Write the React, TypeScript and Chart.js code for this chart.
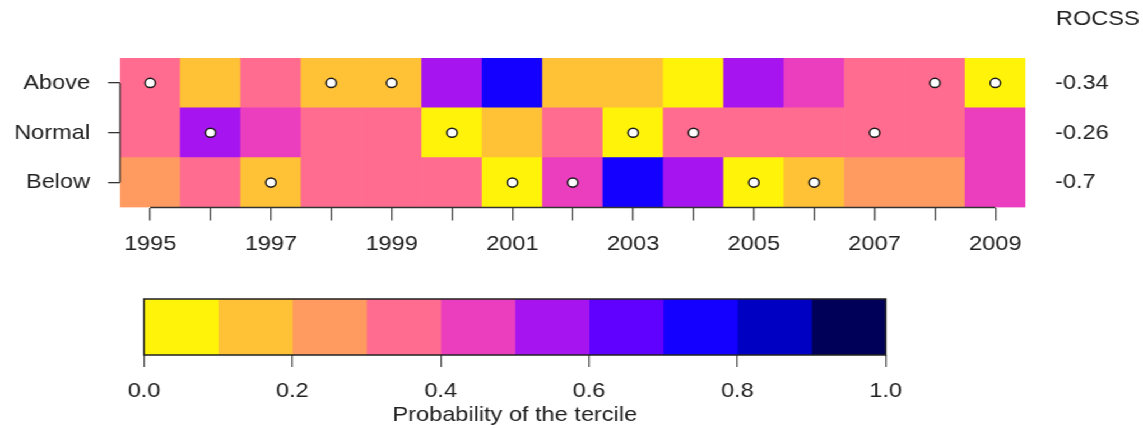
import React, { useEffect, useRef } from 'react';
import { Chart, registerables } from 'chart.js';

Chart.register(...registerables);

// ---------------- data ----------------
const years = ['1995', '1996', '1997', '1998', '1999', '2000', '2001', '2002', '2003', '2004', '2005', '2006', '2007', '2008', '2009'];
const rowLabels = ['Below', 'Normal', 'Above'];
const probBelow = [0.26, 0.34, 0.17, 0.39, 0.39, 0.36, 0.08, 0.47, 0.76, 0.56, 0.08, 0.18, 0.26, 0.26, 0.46];
const probNormal = [0.36, 0.52, 0.48, 0.39, 0.38, 0.08, 0.18, 0.36, 0.08, 0.37, 0.37, 0.38, 0.37, 0.36, 0.46];
const probAbove = [0.38, 0.14, 0.35, 0.18, 0.19, 0.56, 0.74, 0.17, 0.16, 0.07, 0.55, 0.44, 0.37, 0.38, 0.08];
const observed = ['Above', 'Normal', 'Below', 'Above', 'Above', 'Normal', 'Below', 'Below', 'Normal', 'Normal', 'Below', 'Below', 'Normal', 'Above', 'Above'];
const rocss = ['-0.7', '-0.26', '-0.34']; // Below, Normal, Above
const breaks = [0, 0.1, 0.2, 0.3, 0.4, 0.5, 0.6, 0.7, 0.8, 0.9, 1.0];
const palette = ['#FFF30A', '#FFC135', '#FF9A60', '#FF6C8F', '#EB3EBF', '#A615EF', '#6000FF', '#1300FF', '#0000C2', '#000058'];
const rowProbs = [probBelow, probNormal, probAbove];

// ---------------- layout ----------------
const S = 1143 / 1020; // horizontal stretch of the reference
const W = 1020;
const H1 = 270;
const H2 = 148;
const FONT = "'Liberation Sans', Arial, Helvetica, sans-serif";
const TXT = '#222222';

function colorFor(p: number): string {
  for (let i = 0; i < palette.length; i++) {
    if (p >= breaks[i] && p < breaks[i + 1]) return palette[i];
  }
  return palette[palette.length - 1];
}

const heatAxesPlugin = {
  id: 'heatAxes',
  afterDraw(chart: any) {
    const { ctx, chartArea } = chart;
    const xs = chart.scales.x;
    const ys = chart.scales.y;
    ctx.save();
    ctx.strokeStyle = '#333';
    ctx.lineWidth = 1.3;
    ctx.beginPath();
    ctx.moveTo(xs.getPixelForValue(0), chartArea.bottom);
    ctx.lineTo(xs.getPixelForValue(years.length - 1), chartArea.bottom);
    ctx.moveTo(chartArea.left, ys.getPixelForValue(0.5));
    ctx.lineTo(chartArea.left, ys.getPixelForValue(2.5));
    ctx.stroke();
    ctx.fillStyle = TXT;
    ctx.font = `21px ${FONT}`;
    ctx.textAlign = 'left';
    ctx.textBaseline = 'middle';
    ctx.fillText('ROCSS', 1056 / S, 19);
    ctx.restore();
  },
};

const barBorderPlugin = {
  id: 'barBorder',
  afterDraw(chart: any) {
    const { ctx, chartArea } = chart;
    ctx.save();
    ctx.strokeStyle = '#222';
    ctx.lineWidth = 1.5;
    ctx.strokeRect(chartArea.left, chartArea.top, chartArea.right - chartArea.left, chartArea.bottom - chartArea.top);
    ctx.restore();
  },
};

export default function App() {
  const heatRef = useRef<HTMLCanvasElement>(null);
  const barRef = useRef<HTMLCanvasElement>(null);

  useEffect(() => {
    const rowTicks = (scale: any) => {
      scale.ticks = [{ value: 0.5 }, { value: 1.5 }, { value: 2.5 }];
    };

    const barDatasets: any[] = rowLabels.map((name, ri) => ({
      type: 'bar',
      label: name,
      data: years.map(() => [ri, ri + 1]),
      backgroundColor: rowProbs[ri].map((p) => colorFor(p)),
      borderWidth: 0,
      barPercentage: 1,
      categoryPercentage: 1,
      grouped: false,
      order: 2,
      yAxisID: 'y',
    }));

    const dots = {
      type: 'scatter',
      label: 'observed',
      data: years.map((yr, i) => ({ x: yr, y: rowLabels.indexOf(observed[i]) + 0.5 })),
      pointRadius: 4.6,
      pointBackgroundColor: '#ffffff',
      pointBorderColor: '#1a1a1a',
      pointBorderWidth: 1.5,
      showLine: false,
      order: 0,
      yAxisID: 'y',
    };

    const heat = new Chart(heatRef.current as HTMLCanvasElement, {
      type: 'bar',
      data: { labels: years, datasets: [...barDatasets, dots] as any },
      plugins: [heatAxesPlugin],
      options: {
        animation: false,
        responsive: false,
        layout: { padding: { top: 58, left: 0, right: 0, bottom: 0 } },
        plugins: { legend: { display: false }, tooltip: { enabled: false } },
        scales: {
          x: {
            type: 'category',
            offset: true,
            grid: { offset: false, drawOnChartArea: false, tickLength: 13, color: '#444', lineWidth: 1.3 },
            border: { display: false },
            ticks: {
              autoSkip: false,
              maxRotation: 0,
              padding: 11,
              color: TXT,
              font: { family: FONT, size: 21 },
              callback: (_v: any, i: number) => (i % 2 === 0 ? years[i] : ''),
            },
            afterFit: (s: any) => { s.height = H1 - 207.5; },
          },
          y: {
            type: 'linear',
            position: 'left',
            min: 0,
            max: 3,
            afterBuildTicks: rowTicks,
            grid: { drawOnChartArea: false, tickLength: 12 / S, color: '#333', lineWidth: 1.3 },
            border: { display: false },
            ticks: {
              padding: 16,
              color: TXT,
              font: { family: FONT, size: 21 },
              callback: (v: any) => rowLabels[Math.floor(Number(v))],
            },
            afterFit: (s: any) => { s.width = 120 / S; },
          },
          yR: {
            type: 'linear',
            position: 'right',
            min: 0,
            max: 3,
            afterBuildTicks: rowTicks,
            grid: { display: false, drawTicks: false },
            border: { display: false },
            ticks: {
              padding: 1055 / S - 1025.5 / S,
              color: TXT,
              font: { family: FONT, size: 21 },
              callback: (v: any) => rocss[Math.floor(Number(v))],
            },
            afterFit: (s: any) => { s.width = W - 1025.5 / S; },
          },
        },
      } as any,
    });

    const cb = new Chart(barRef.current as HTMLCanvasElement, {
      type: 'bar',
      data: {
        labels: [''],
        datasets: palette.map((c, i) => ({
          label: String(breaks[i]),
          data: [[breaks[i], breaks[i + 1]]],
          backgroundColor: c,
          borderWidth: 0,
          barPercentage: 1,
          categoryPercentage: 1,
          grouped: false,
        })) as any,
      },
      plugins: [barBorderPlugin],
      options: {
        animation: false,
        responsive: false,
        indexAxis: 'y',
        layout: { padding: { top: 19, left: 144 / S, right: W - 885.7 / S, bottom: 0 } },
        plugins: { legend: { display: false }, tooltip: { enabled: false } },
        scales: {
          x: {
            type: 'linear',
            min: 0,
            max: 1,
            grid: { drawOnChartArea: false, tickLength: 12, color: '#555', lineWidth: 1.3 },
            border: { display: false },
            ticks: {
              stepSize: 0.2,
              padding: 12,
              color: TXT,
              font: { family: FONT, size: 21 },
              callback: (v: any) => Number(v).toFixed(1),
            },
            title: {
              display: true,
              text: 'Probability of the tercile',
              color: TXT,
              font: { family: FONT, size: 21 },
              padding: { top: 0, bottom: 0 },
            },
            afterFit: (s: any) => { s.height = H2 - 75; },
          },
          y: { display: false, offset: true },
        },
      } as any,
    });

    return () => {
      heat.destroy();
      cb.destroy();
    };
  }, []);

  return (
    <div
      style={{
        position: 'absolute',
        left: 0,
        top: 0,
        width: W,
        height: 428,
        background: '#ffffff',
        transform: `scaleX(${S})`,
        transformOrigin: '0 0',
        overflow: 'hidden',
      }}
    >
      <div style={{ position: 'absolute', left: 0, top: 0, width: W, height: H1 }}>
        <canvas ref={heatRef} width={W} height={H1} style={{ width: W, height: H1, display: 'block' }} />
      </div>
      <div style={{ position: 'absolute', left: 0, top: 280, width: W, height: H2 }}>
        <canvas ref={barRef} width={W} height={H2} style={{ width: W, height: H2, display: 'block' }} />
      </div>
    </div>
  );
}
